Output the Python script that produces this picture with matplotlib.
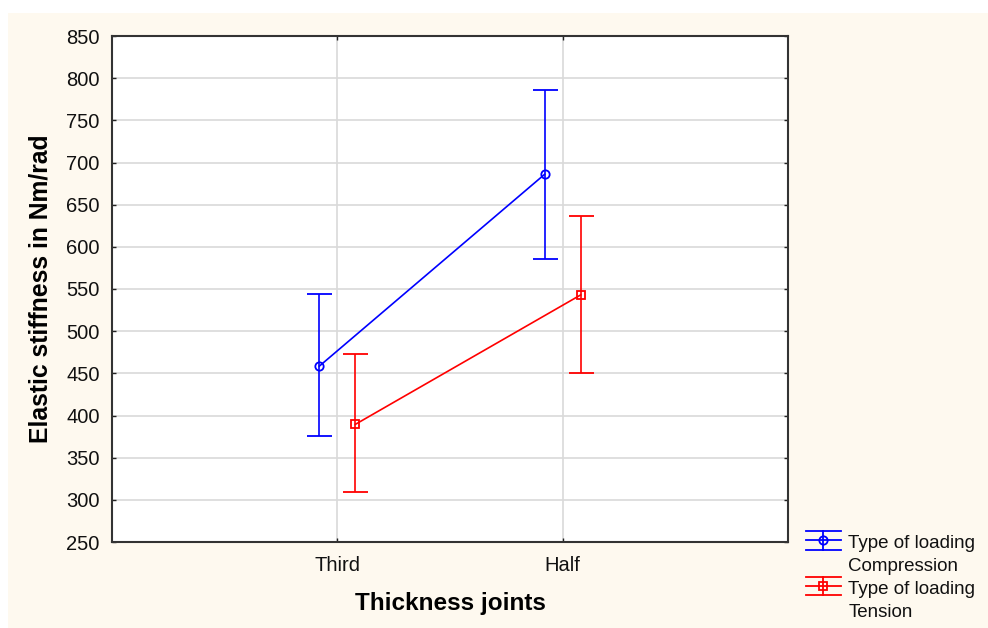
import matplotlib
matplotlib.use("Agg")
import matplotlib.pyplot as plt
from matplotlib.patches import Rectangle
from matplotlib.lines import Line2D
from matplotlib.legend_handler import HandlerBase
import numpy as np

plt.rcParams['font.family'] = ['Liberation Sans', 'DejaVu Sans']

categories = ["Third", "Half"]
compression_mean = [458.5, 686.0]
compression_low = [375.5, 585.5]
compression_high = [544.0, 786.0]
tension_mean = [389.5, 543.0]
tension_low = [309.5, 450.0]
tension_high = [472.5, 636.0]
y_ticks = list(range(250, 851, 50))

fig = plt.figure(figsize=(9.88, 6.28), dpi=100, facecolor='white')
fig.patches.append(Rectangle((8/988, 0), 1, (628-13)/628, transform=fig.transFigure,
                             facecolor='#fef9ef', edgecolor='none', zorder=-10))
ax = fig.add_axes([112/988, 1-542/628, (788-112)/988, (542-36)/628])
ax.set_facecolor('white')

x = np.arange(1, len(categories)+1)
off = 0.08

def draw(xs, mean, low, high, color, marker, label):
    mean = np.array(mean); low = np.array(low); high = np.array(high)
    yerr = [mean - low, high - mean]
    ax.errorbar(xs, mean, yerr=yerr, color=color, marker=marker, markersize=6,
                markerfacecolor='none', markeredgecolor=color, markeredgewidth=1.3,
                capsize=9, capthick=1.2, elinewidth=1.2, linewidth=1.2,
                label=label, zorder=3)

draw(x - off, compression_mean, compression_low, compression_high, '#0000ff', 'o',
     'Type of loading\nCompression')
draw(x + off, tension_mean, tension_low, tension_high, '#ff0000', 's',
     'Type of loading\nTension')

ax.set_xlim(0, 3)
ax.set_ylim(250, 850)
ax.set_yticks(y_ticks)
ax.set_xticks(x)
ax.set_xticklabels(categories)
ax.grid(True, color='#d9d9d9', linewidth=1.2, zorder=0)
ax.set_axisbelow(True)
ax.tick_params(direction='in', length=3, width=1, top=True, right=True,
               labelsize=14.5, colors='#222222', labelcolor='#111111')
ax.tick_params(axis='y', pad=9)
ax.tick_params(axis='x', pad=10)
for s in ax.spines.values():
    s.set_color('#333333')
    s.set_linewidth(1.5)

ax.set_xlabel('Thickness joints', fontsize=17.5, fontweight='bold', labelpad=12)
ax.set_ylabel('Elastic stiffness in Nm/rad', fontsize=17.8, fontweight='bold', labelpad=10)


class ErrHandler(HandlerBase):
    def create_artists(self, legend, orig_handle, xdescent, ydescent, width, height,
                       fontsize, trans):
        color = orig_handle.get_color()
        marker = orig_handle.get_marker()
        cy = height / 2 - ydescent + fontsize * 0.8
        dh = fontsize * 0.5
        arts = []
        for yy in (cy - dh, cy, cy + dh):
            arts.append(Line2D([-xdescent, -xdescent + width], [yy, yy], color=color, lw=1.3))
        xc = -xdescent + width / 2
        arts.append(Line2D([xc, xc], [cy - dh, cy + dh], color=color, lw=1.3))
        arts.append(Line2D([xc], [cy], marker=marker, markersize=6, markerfacecolor='none',
                           markeredgecolor=color, markeredgewidth=1.3, color=color))
        for a in arts:
            a.set_transform(trans)
        return arts


h1 = Line2D([], [], color='#0000ff', marker='o')
h2 = Line2D([], [], color='#ff0000', marker='s')
leg = ax.legend([h1, h2], ['Type of loading\nCompression', 'Type of loading\nTension'],
                handler_map={Line2D: ErrHandler()},
                loc='lower left', bbox_to_anchor=(806/988, 7/628), bbox_transform=fig.transFigure,
                frameon=False, handlelength=1.85, handletextpad=0.4,
                labelspacing=0.3, borderaxespad=0.0, borderpad=0.0,
                prop={'size': 13.5})
for t in leg.get_texts():
    t.set_linespacing(1.47)
    t.set_color('#111111')

fig.savefig('out.png', dpi=100, facecolor=fig.get_facecolor())
